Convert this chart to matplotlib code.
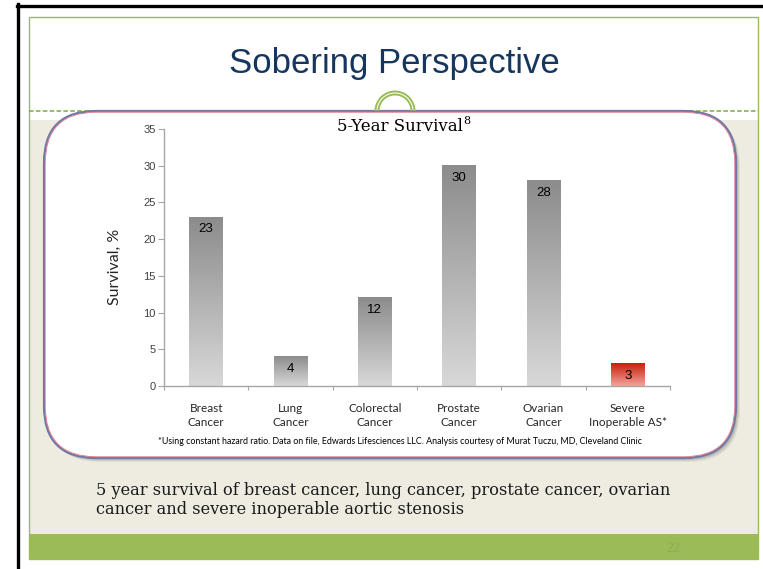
import matplotlib
matplotlib.use('Agg')
import matplotlib.pyplot as plt
import numpy as np
from matplotlib.patches import Rectangle, FancyBboxPatch, Arc
from matplotlib.lines import Line2D
from matplotlib.transforms import IdentityTransform
from matplotlib.colors import LinearSegmentedColormap

# ---------------- data ----------------
categories = ["Breast\nCancer", "Lung\nCancer", "Colorectal\nCancer",
              "Prostate\nCancer", "Ovarian\nCancer", "Severe\nInoperable AS*"]
survival = [23, 4, 12, 30, 28, 3]
highlight = [False, False, False, False, False, True]
y_ticks = [0, 5, 10, 15, 20, 25, 30, 35]

slide_title = "Sobering Perspective"
chart_title = "5-Year Survival"
chart_title_ref = "8"
y_label = "Survival, %"
footnote = ("*Using constant hazard ratio. Data on file, Edwards Lifesciences LLC. "
            "Analysis courtesy of Murat Tuczu, MD, Cleveland Clinic")
caption = ("5 year survival of breast cancer, lung cancer, prostate cancer, ovarian\n"
           "cancer and severe inoperable aortic stenosis")
page_number = "22"

# ---------------- figure ----------------
W, H = 763, 569
fig = plt.figure(figsize=(W / 100, H / 100), dpi=100)
fig.patch.set_facecolor('white')
T = IdentityTransform()

GREEN = '#9BBB59'
BEIGE = '#EEECE1'


def rect(x0, y0, x1, y1, z=-10, **kw):
    p = Rectangle((x0, H - y1), x1 - x0, y1 - y0, transform=T, zorder=z, **kw)
    fig.add_artist(p)
    return p


def line(xs, ys, z=-5, **kw):
    l = Line2D(xs, [H - y for y in ys], transform=T, zorder=z, **kw)
    fig.add_artist(l)
    return l


# slide backgrounds
rect(29, 120, 758, 534, facecolor=BEIGE, edgecolor='none', z=-20)
rect(29, 534, 758, 559, facecolor=GREEN, edgecolor='none', z=-19)
rect(29, 17, 758, 559, facecolor='none', edgecolor=GREEN, linewidth=1.0, z=-18)
line([29, 758], [110.5, 110.5], color='#7FA83A', linewidth=1.1, linestyle=(0, (3, 1.5)), z=-17)

# black outer frame (top and left)
line([17, 763], [5.5, 5.5], color='black', linewidth=2.4, z=-16)
line([18, 18], [4, 569], color='black', linewidth=2.4, z=-16)

# rounded chart box with shadow
bx0, by0, bx1, by1, rad = 44, 111, 736, 458, 52
for off, a in [(4, 0.10), (3, 0.15), (2, 0.2)]:
    fig.add_artist(FancyBboxPatch((bx0 + off, H - by1 - off), bx1 - bx0, by1 - by0,
                                  boxstyle=f"round,pad=0,rounding_size={rad}",
                                  transform=T, facecolor='#6E6E6E', edgecolor='none',
                                  alpha=a, zorder=-9))
fig.add_artist(FancyBboxPatch((bx0, H - by1), bx1 - bx0, by1 - by0,
                              boxstyle=f"round,pad=0,rounding_size={rad}",
                              transform=T, facecolor='white', edgecolor='#6F78A6',
                              linewidth=1.6, zorder=-8))
fig.add_artist(FancyBboxPatch((bx0 + 1.2, H - by1 + 1.2), bx1 - bx0 - 2.4, by1 - by0 - 2.4,
                              boxstyle=f"round,pad=0,rounding_size={rad - 1}",
                              transform=T, facecolor='none', edgecolor='#E08090',
                              linewidth=0.7, zorder=-7))

# green arch on top of the box
for r in (19.5, 16.5):
    fig.add_artist(Arc((395, H - 111), 2 * r, 2 * r, theta1=0, theta2=180,
                       transform=T, color=GREEN, linewidth=1.4, zorder=-6))

# slide title
fig.text(394 / W, 1 - 64 / H, slide_title, ha='center', va='center',
         fontsize=25, family='Liberation Sans', color='#17365D')

# chart title with superscript reference
fig.text(463 / W, 1 - 131 / H, chart_title, ha='right', va='baseline',
         fontsize=12, family='DejaVu Serif', color='black')
fig.text(463.5 / W, 1 - 124 / H, chart_title_ref, ha='left', va='baseline',
         fontsize=8, family='DejaVu Serif', color='black')

# ---------------- chart ----------------
ax = fig.add_axes([164 / W, (H - 386) / H, 506 / W, 257 / H])
ax.set_zorder(5)
ax.patch.set_alpha(0)

x = np.arange(len(categories)) + 0.5
bars = ax.bar(x, survival, width=0.40, color='none', edgecolor='none')

gray_cmap = LinearSegmentedColormap.from_list('g', ['#D8D8D8', '#8C8C8C'])
red_cmap = LinearSegmentedColormap.from_list('r', ['#F2A59C', '#C81E0C'])
grad = np.linspace(0, 1, 256).reshape(-1, 1)
for b, hl, v in zip(bars, highlight, survival):
    x0, w, h = b.get_x(), b.get_width(), b.get_height()
    ax.imshow(grad, cmap=red_cmap if hl else gray_cmap, origin='lower',
              extent=[x0, x0 + w, 0, h], aspect='auto', zorder=2)
    ax.annotate(f"{v}", xy=(x0 + w / 2, h), xytext=(0, -4.5), textcoords='offset points',
                ha='center', va='top', fontsize=9.5, family='Liberation Sans',
                color='black', zorder=3)

ax.set_xlim(0, len(categories))
ax.set_ylim(0, 35)

ax.set_yticks(y_ticks)
ax.set_yticklabels([str(t) for t in y_ticks], family='Liberation Sans',
                   fontsize=8, color='#404040')
ax.set_xticks(np.arange(len(categories) + 1))
ax.set_xticklabels([''] * (len(categories) + 1))
ax.set_xticks(x, minor=True)
ax.set_xticklabels(categories, minor=True, family='Lato', fontsize=8.5,
                   color='#262626', linespacing=1.35)
ax.tick_params(axis='x', which='major', length=3, direction='out', color='#A6A6A6')
ax.tick_params(axis='x', which='minor', length=0, pad=12)
ax.tick_params(axis='y', length=4, direction='out', color='#A6A6A6', pad=2)

for s in ('top', 'right'):
    ax.spines[s].set_visible(False)
for s in ('left', 'bottom'):
    ax.spines[s].set_color('#A6A6A6')
    ax.spines[s].set_linewidth(1.0)

ax.set_ylabel(y_label, family='Lato', fontsize=11.5, color='#262626')
ax.yaxis.set_label_coords((122 - 164) / 506, (386 - 267) / 257)

# footnote
fig.text(400 / W, 1 - 442 / H, footnote, ha='center', va='center',
         fontsize=6.4, family='Lato', color='black')

# caption
fig.text(96 / W, 1 - 500 / H, caption, ha='left', va='center',
         fontsize=11.7, family='DejaVu Serif', color='#1A1A1A', linespacing=1.08)

# page number
fig.text(673 / W, 1 - 548 / H, page_number, ha='center', va='center',
         fontsize=10, family='Liberation Serif', color='#8DAE50')

fig.savefig('out.png', dpi=100, facecolor='white')
